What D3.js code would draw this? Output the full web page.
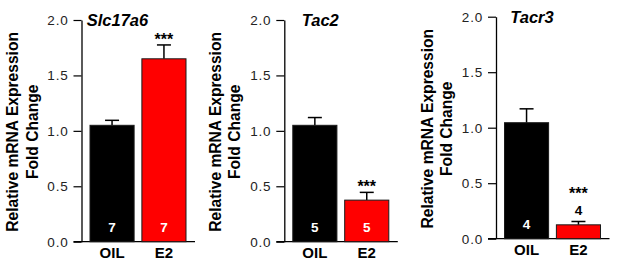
<!DOCTYPE html>
<html>
<head>
<meta charset="utf-8">
<script src="https://cdn.jsdelivr.net/npm/d3@7"></script>
<style>
  body { margin: 0; background: #fff; }
  svg { display: block; font-family: "Liberation Sans", Arial, sans-serif; }
  .tick text { font-size: 13.5px; letter-spacing: 0.8px; }
</style>
</head>
<body>
<div id="chart"></div>
<script>
// data
const genes = ["Slc17a6", "Tac2", "Tacr3"];
const groups = ["OIL", "E2"];
const means = [[1.05, 1.65], [1.05, 0.375], [1.045, 0.125]];
const sems = [[0.045, 0.125], [0.07, 0.07], [0.125, 0.03]];
const nCounts = [[7, 7], [5, 5], [4, 4]];
const sigLabels = ["***", "***", "***"];
const yTicks = [0, 0.5, 1.0, 1.5, 2.0];

const W = 617, H = 273;
const FONT = "'Liberation Sans', Arial, sans-serif";
const svg = d3.select("#chart").append("svg")
    .attr("width", W).attr("height", H)
    .attr("font-family", FONT);

// panel layout (axis x, plot top/bottom)
const panels = [
    {axisX: 81.5, top: 20, bottom: 241.7},
    {axisX: 284.3, top: 20, bottom: 241.7},
    {axisX: 496, top: 16.7, bottom: 238.7}
];
const barColors = ["#000000", "#ff0000"];

panels.forEach((p, k) => {
    const g = svg.append("g");

    const y = d3.scaleLinear().domain([0, 2]).range([p.bottom, p.top]);
    const x = d3.scaleBand().domain(groups)
        .range([p.axisX + 8.5, p.axisX + 104.5])
        .paddingInner(0.15);

    // y axis
    const yAxis = d3.axisLeft(y).tickValues(yTicks)
        .tickFormat(d3.format(".1f"))
        .tickSize(8).tickPadding(5).tickSizeOuter(0);
    const ya = g.append("g")
        .attr("transform", "translate(" + p.axisX + ",0)")
        .call(yAxis);
    ya.attr("font-family", FONT);
    ya.select(".domain").attr("stroke", "#000").attr("stroke-width", 1.3);
    ya.selectAll(".tick line").attr("stroke", "#000").attr("stroke-width", 1.2);
    ya.selectAll(".tick text").attr("fill", "#222");

    // baseline
    g.append("line")
        .attr("x1", p.axisX - 8).attr("x2", x.range()[1] + 9)
        .attr("y1", y(0)).attr("y2", y(0))
        .attr("stroke", "#000").attr("stroke-width", 1.3);

    // y title (two lines)
    const cy = (p.top + p.bottom) / 2 + 1;
    ["Relative mRNA Expression", "Fold Change"].forEach((t, i) => {
        g.append("text")
            .attr("transform", "translate(" + (p.axisX - 63.5 + i * 19.5) + "," + cy + ") rotate(-90)")
            .attr("text-anchor", "middle")
            .attr("font-size", "15.6px").attr("font-weight", "bold")
            .text(t);
    });

    // gene title
    g.append("text")
        .attr("x", p.axisX + 36).attr("y", p.top + 6)
        .attr("text-anchor", "middle")
        .attr("font-size", "16.5px").attr("font-weight", "bold").attr("font-style", "italic")
        .text(genes[k]);

    // error bars (upper only)
    groups.forEach((grp, j) => {
        const cx = x(grp) + x.bandwidth() / 2;
        const top = y(means[k][j] + sems[k][j]);
        g.append("line").attr("x1", cx).attr("x2", cx)
            .attr("y1", y(means[k][j])).attr("y2", top)
            .attr("stroke", "#000").attr("stroke-width", 1.5);
        g.append("line").attr("x1", cx - 7).attr("x2", cx + 7)
            .attr("y1", top).attr("y2", top)
            .attr("stroke", "#000").attr("stroke-width", 1.5);
    });

    // bars
    g.selectAll("rect.bar").data(groups).enter().append("rect")
        .attr("class", "bar")
        .attr("x", d => x(d))
        .attr("width", x.bandwidth())
        .attr("y", (d, j) => y(means[k][j]))
        .attr("height", (d, j) => y(0) - y(means[k][j]))
        .attr("fill", (d, j) => barColors[j])
        .attr("stroke", "#1a1a1a").attr("stroke-width", 1);

    // x labels
    groups.forEach((grp, j) => {
        g.append("text")
            .attr("x", x(grp) + x.bandwidth() / 2).attr("y", y(0) + 16.5)
            .attr("text-anchor", "middle")
            .attr("font-size", "15px").attr("font-weight", "bold")
            .text(grp);
    });

    // n labels + significance
    groups.forEach((grp, j) => {
        const cx = x(grp) + x.bandwidth() / 2;
        const barH = y(0) - y(means[k][j]);
        const errTop = y(means[k][j] + sems[k][j]);
        if (barH > 25) {
            g.append("text")
                .attr("x", cx).attr("y", y(0) - 10)
                .attr("text-anchor", "middle")
                .attr("font-size", "13.5px").attr("font-weight", "bold").attr("fill", "#fff")
                .text(nCounts[k][j]);
        } else {
            g.append("text")
                .attr("x", cx).attr("y", errTop - 6.5)
                .attr("text-anchor", "middle")
                .attr("font-size", "13.5px").attr("font-weight", "bold").attr("fill", "#000")
                .text(nCounts[k][j]);
        }
        if (j === 1) {
            const starY = barH > 25 ? errTop : errTop - 22;
            g.append("text")
                .attr("x", cx).attr("y", starY)
                .attr("text-anchor", "middle")
                .attr("font-size", "16px").attr("font-weight", "bold")
                .text(sigLabels[k]);
        }
    });
});
</script>
</body>
</html>
